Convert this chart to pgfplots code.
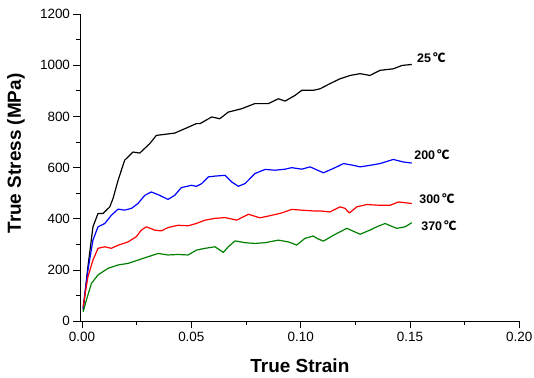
\documentclass[border=0pt]{standalone}
\usepackage{pgfplots}
\pgfplotsset{compat=1.18}
\usepackage{fontspec}
\setmainfont{Liberation Sans}
\newfontfamily\cjk{Noto Sans CJK SC}
\usetikzlibrary{calc}
\definecolor{cgreen}{RGB}{0,128,0}
\definecolor{cblue}{RGB}{0,0,255}
\definecolor{cred}{RGB}{255,0,0}
\begin{document}
\begin{tikzpicture}
\begin{axis}[
  name=ax,
  scale only axis, width=438.8bp, height=307.3bp,
  xmin=-0.0007, xmax=0.2, ymin=0, ymax=1200,
  axis lines=left, axis line style={-, line width=0.8pt},
  xtick={0,0.05,0.1,0.15,0.2},
  minor xtick={0.025,0.075,0.125,0.175},
  ytick={0,200,400,600,800,1000,1200},
  minor ytick={100,300,500,700,900,1100},
  tick align=outside, major tick length=7bp, minor tick length=4bp,
  every tick/.style={line width=0.8pt, black},
  xticklabel style={/pgf/number format/.cd, fixed, fixed zerofill, precision=2, assume math mode=true},
  yticklabel style={/pgf/number format/.cd, 1000 sep={}, assume math mode=true},
  ticklabel style={font=\fontsize{13.5}{13.5}\selectfont},
  xlabel={True Strain}, ylabel={True Stress (MPa)},
  xlabel style={at={(axis description cs:0.5,-0.146)}, anchor=center},
  ylabel style={at={(axis description cs:-0.147,0.546)}, anchor=center, rotate=0},
  label style={font=\fontsize{19}{19}\selectfont\bfseries},
  clip=false,
  every axis plot/.append style={line width=1.2pt, line join=round},
]
% 25 C
\addplot[black] coordinates {
(0.0005,44) (0.0027,213) (0.005,369) (0.0073,421) (0.0096,421) (0.0127,447) (0.0142,480)
(0.0165,551) (0.0195,629) (0.0233,661) (0.0264,657) (0.031,694) (0.034,726) (0.0378,730)
(0.0424,735) (0.047,752) (0.0523,772) (0.054,772) (0.0593,798) (0.063,791) (0.0669,817)
(0.073,830) (0.079,850) (0.0852,850) (0.0898,869) (0.0929,860) (0.0974,882) (0.1005,902)
(0.1058,902) (0.1089,908) (0.1134,928) (0.118,947) (0.1226,960) (0.1272,967) (0.1317,960)
(0.1363,980) (0.1424,986) (0.1463,999) (0.1508,1003)
};
% 200 C
\addplot[cblue] coordinates {
(0.0005,51) (0.0027,200) (0.005,317) (0.0073,369) (0.0104,382) (0.0134,414) (0.0165,438)
(0.0195,434) (0.0226,441) (0.0256,460) (0.0287,492) (0.0317,505) (0.0355,492) (0.0393,476)
(0.0424,492) (0.0454,522) (0.05,531) (0.0523,527) (0.0548,538) (0.0578,564) (0.0609,567)
(0.0654,570) (0.0685,544) (0.0715,527) (0.0746,538) (0.0791,577) (0.0837,593) (0.0883,590)
(0.0929,594) (0.0959,600) (0.1005,594) (0.1043,603) (0.1104,580) (0.115,597) (0.1196,616)
(0.1241,609) (0.1272,603) (0.1317,609) (0.1363,616) (0.1424,632) (0.147,622) (0.1508,618)
};
% 300 C
\addplot[cred] coordinates {
(0.0005,57) (0.0027,174) (0.005,239) (0.0073,285) (0.0104,291) (0.0134,285) (0.0165,297)
(0.021,310) (0.0248,330) (0.0271,356) (0.0294,369) (0.0333,356) (0.0363,353) (0.0393,366)
(0.0439,375) (0.0485,373) (0.0523,382) (0.0563,395) (0.0608,402) (0.0654,405) (0.0708,395)
(0.0761,418) (0.0814,404) (0.0868,414) (0.0913,423) (0.0959,437) (0.1005,434) (0.1058,431)
(0.1089,431) (0.1134,427) (0.118,447) (0.1203,441) (0.1223,423) (0.1257,447) (0.1303,456)
(0.1363,453) (0.1409,453) (0.1447,466) (0.1508,460)
};
% 370 C
\addplot[cgreen] coordinates {
(0.0005,37) (0.002,83) (0.0043,148) (0.0073,181) (0.0119,207) (0.0165,220) (0.021,226)
(0.0256,239) (0.0302,252) (0.0348,265) (0.0393,259) (0.0439,261) (0.0485,259) (0.0523,278)
(0.0563,285) (0.0608,291) (0.0631,278) (0.0646,269) (0.0669,291) (0.07,314) (0.0746,307)
(0.0791,304) (0.0837,307) (0.0898,317) (0.0944,310) (0.0982,298) (0.102,324) (0.1058,333)
(0.1074,324) (0.1104,313) (0.115,336) (0.1211,363) (0.1272,340) (0.1317,356) (0.1348,369)
(0.1386,382) (0.1439,363) (0.1478,369) (0.1508,385)
};
\node[anchor=west, inner sep=0pt, font=\fontsize{12.5}{12.5}\selectfont\bfseries] at (axis cs:0.1532,1030) {25\,{\cjk ℃}};
\node[anchor=west, inner sep=0pt, font=\fontsize{12.5}{12.5}\selectfont\bfseries] at (axis cs:0.1519,652) {200\,{\cjk ℃}};
\node[anchor=west, inner sep=0pt, font=\fontsize{12.5}{12.5}\selectfont\bfseries] at (axis cs:0.1542,477) {300\,{\cjk ℃}};
\node[anchor=west, inner sep=0pt, font=\fontsize{12.5}{12.5}\selectfont\bfseries] at (axis cs:0.1551,375) {370\,{\cjk ℃}};
\end{axis}
\pgfresetboundingbox
\path ($(ax.south west)+(-80.5bp,-56.7bp)$) rectangle ($(ax.north east)+(14.7bp,14bp)$);
\end{tikzpicture}
\end{document}
